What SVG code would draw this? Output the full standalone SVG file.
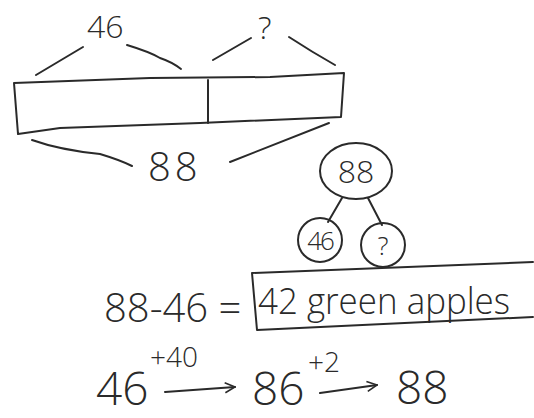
<svg xmlns="http://www.w3.org/2000/svg" width="534" height="418" viewBox="0 0 534 418">
<style>
.s{fill:none;stroke:#2a2a2a;stroke-width:2;stroke-linecap:round;stroke-linejoin:round}
.t{font-family:"Open Sans","Liberation Sans",sans-serif;font-weight:300;fill:#2a2a2a}
</style>
<defs>
<marker id="ah" viewBox="0 0 12 12" refX="11" refY="6" markerWidth="12" markerHeight="12" markerUnits="userSpaceOnUse" orient="auto">
<path d="M1,1 L11,6 L1,11" fill="none" stroke="#2a2a2a" stroke-width="1.6"/>
</marker>
</defs>
<rect width="534" height="418" fill="#fff"/>
<g id="tape">
<path class="s" d="M14,83 L150,78 L270,77 L344,73 L341,117 L200,123 L60,128 L18,134 Z"/>
<path class="s" d="M208,80 L208,123"/>
<text class="t" x="87" y="38" font-size="32">46</text>
<text class="t" x="258" y="39" font-size="32">?</text>
<text class="t" x="148" y="181" font-size="40" letter-spacing="4">88</text>
</g>
<g id="braces">
<path class="s" d="M36,75 L83,47"/>
<path class="s" d="M127,45 Q150,52 160,58 Q172,62 181,69"/>
<path class="s" d="M213,60 L251,38"/>
<path class="s" d="M289,37 Q312,52 335,65"/>
<path class="s" d="M32,140 Q60,150 100,154 Q120,160 132,166"/>
<path class="s" d="M230,162 L329,123"/>
</g>
<g id="node88">
<ellipse class="s" cx="356" cy="171" rx="36" ry="28"/>
<text class="t" x="356" y="183" font-size="32" text-anchor="middle">88</text>
</g>
<g id="node46">
<circle class="s" cx="320" cy="240" r="22"/>
<text class="t" x="320" y="250" font-size="26" text-anchor="middle" letter-spacing="-2">46</text>
</g>
<g id="nodeq">
<circle class="s" cx="383" cy="245" r="22"/>
<text class="t" x="383" y="255" font-size="26" text-anchor="middle">?</text>
</g>
<g id="connectors">
<path class="s" d="M342,198 L328,222"/>
<path class="s" d="M368,198 L382,225"/>
</g>
<g id="equation">
<text class="t" x="104" y="322" font-size="40">88-46 =</text>
<path class="s" d="M252,273 L533,262 M257,330 L533,317 M252,273 L257,330"/>
<text class="t" x="258" y="314" font-size="37" textLength="252" lengthAdjust="spacingAndGlyphs">42 green apples</text>
</g>
<g id="counting">
<text class="t" x="96" y="405" font-size="46">46</text>
<text class="t" x="150" y="367" font-size="28">+40</text>
<text class="t" x="252" y="405" font-size="46">86</text>
<text class="t" x="308" y="372" font-size="28">+2</text>
<text class="t" x="396" y="404" font-size="46">88</text>
<path class="s" d="M165,392 L235,387" marker-end="url(#ah)"/>
<path class="s" d="M320,393 L377,385" marker-end="url(#ah)"/>
</g>
</svg>
